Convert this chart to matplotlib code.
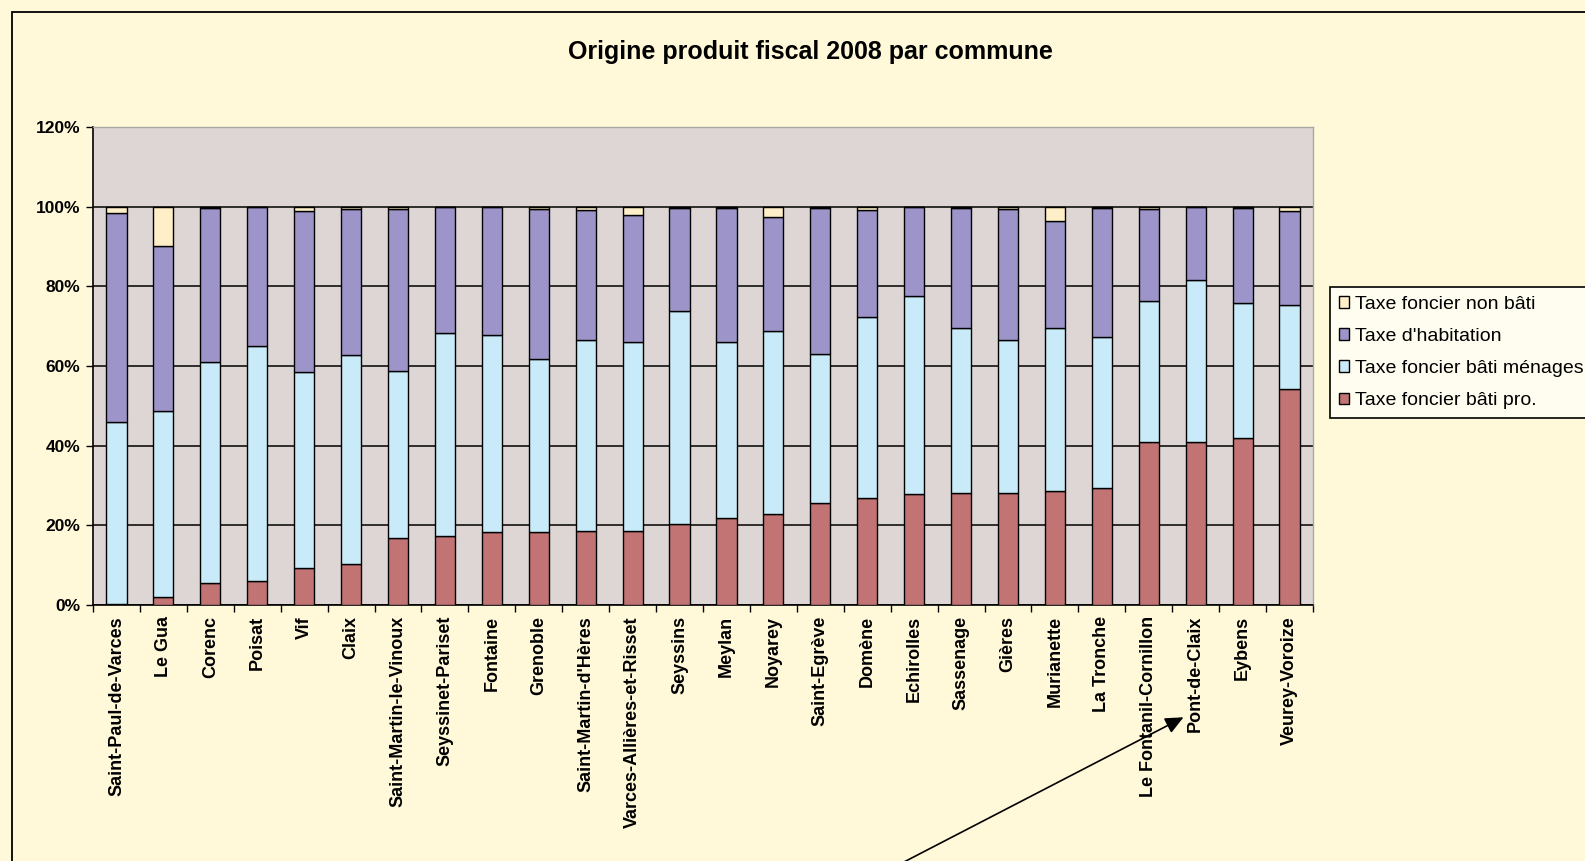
import matplotlib
matplotlib.use("Agg")
import matplotlib.pyplot as plt
from matplotlib.patches import Patch, Rectangle
import numpy as np

# Origine produit fiscal 2008 par commune - barres empilées en %

communes = ["Saint-Paul-de-Varces", "Le Gua", "Corenc", "Poisat", "Vif", "Claix",
            "Saint-Martin-le-Vinoux", "Seyssinet-Pariset", "Fontaine", "Grenoble",
            "Saint-Martin-d'Hères", "Varces-Allières-et-Risset", "Seyssins", "Meylan",
            "Noyarey", "Saint-Egrève", "Domène", "Echirolles", "Sassenage", "Gières",
            "Murianette", "La Tronche", "Le Fontanil-Cornillon", "Pont-de-Claix",
            "Eybens", "Veurey-Voroize"]

# parts en %
bati_pro = [0.3, 1.9, 5.4, 6.0, 9.3, 10.3, 16.8, 17.4, 18.4, 18.3,
            18.7, 18.7, 20.4, 21.8, 22.9, 25.5, 26.8, 27.8, 28.1, 28.1,
            28.6, 29.3, 41.0, 40.9, 41.9, 54.2]
bati_menages = [45.6, 46.9, 55.6, 59.0, 49.2, 52.4, 42.0, 50.9, 49.4, 43.4,
                47.9, 47.2, 53.3, 44.2, 45.9, 37.6, 45.4, 49.8, 41.4, 38.5,
                40.9, 38.0, 35.2, 40.8, 33.9, 21.0]
habitation = [52.5, 41.4, 38.7, 34.8, 40.5, 36.8, 40.7, 31.5, 32.0, 37.8,
              32.6, 32.1, 26.0, 33.7, 28.5, 36.6, 27.0, 22.3, 30.2, 32.8,
              27.0, 32.4, 23.2, 18.3, 23.9, 23.6]
non_bati = [100 - a - b - c for a, b, c in zip(bati_pro, bati_menages, habitation)]

series = ["Taxe foncier non bâti", "Taxe d'habitation", "Taxe foncier bâti ménages",
          "Taxe foncier bâti pro."]
colors = ["#FFEFC8", "#9D95C9", "#C9EAF8", "#C27474"]

W, H = 1585, 861
fig = plt.figure(figsize=(W / 100, H / 100), dpi=100)
fig.patch.set_facecolor("#FFF9D9")
plt.rcParams["font.family"] = ["Liberation Sans", "DejaVu Sans"]

# cadre du graphique
fig.add_artist(Rectangle((12 / W, -0.1), 1.2, 1.1 - 12 / H, transform=fig.transFigure,
                         fill=False, edgecolor="black", linewidth=1.3))

ax = fig.add_axes([93 / W, 1 - 605 / H, (1313 - 93) / W, (605 - 127) / H])
ax.set_facecolor("#DED6D5")

x = np.arange(len(communes))
bottom = np.zeros(len(communes))
stack = [(bati_pro, colors[3]), (bati_menages, colors[2]),
         (habitation, colors[1]), (non_bati, colors[0])]
for vals, c in stack:
    v = np.array(vals) / 100
    ax.bar(x, v, 0.43, bottom=bottom, color=c, edgecolor="black", linewidth=1.0, zorder=3)
    bottom += v

ax.set_xlim(-0.5, len(communes) - 0.5)
ax.set_ylim(0, 1.2)
ax.set_yticks(np.arange(0, 1.21, 0.2))
ax.set_yticklabels([f"{int(round(t * 100))}%" for t in np.arange(0, 1.21, 0.2)],
                   fontsize=12.5, fontweight="bold")
ax.yaxis.grid(True, color="black", linewidth=1.1, zorder=0)
ax.set_axisbelow(True)

ax.set_xticks(x)
ax.set_xticklabels(communes, rotation=90, fontsize=13, fontweight="bold", va="top")
ax.set_xticks(np.arange(-0.5, len(communes)), minor=True)
ax.tick_params(axis="x", which="major", length=0, pad=8)
ax.tick_params(axis="x", which="minor", length=5, width=1)
ax.tick_params(axis="y", length=5, width=1, pad=4)

for s in ["top", "right"]:
    ax.spines[s].set_color("#A8A8A8")
    ax.spines[s].set_linewidth(1.0)
ax.spines["left"].set_linewidth(1.2)
ax.spines["bottom"].set_linewidth(1.2)

fig.text(810 / W, 1 - 52 / H, "Origine produit fiscal 2008 par commune",
         ha="center", va="center", fontsize=18, fontweight="bold")

handles = [Patch(facecolor=c, edgecolor="black", linewidth=1.0) for c in colors]
leg = fig.legend(handles, series, loc="upper left", bbox_to_anchor=(1330 / W, 1 - 287 / H),
                 fontsize=14, handlelength=0.55, handleheight=0.55, handletextpad=0.3,
                 labelspacing=0.78, borderpad=0.45, borderaxespad=0, fancybox=False,
                 frameon=True)
leg.get_frame().set_edgecolor("black")
leg.get_frame().set_linewidth(1.2)
leg.get_frame().set_facecolor("#FFFCF0")
leg.get_frame().set_alpha(1)

# flèche
ax.annotate("", xy=(1186, H - 716), xytext=(902, -2), xycoords="figure pixels",
            textcoords="figure pixels", annotation_clip=False,
            arrowprops=dict(arrowstyle="-|>,head_length=1.1,head_width=0.5",
                            color="black", linewidth=1.2))

fig.savefig("out.png", dpi=100, facecolor=fig.get_facecolor())
